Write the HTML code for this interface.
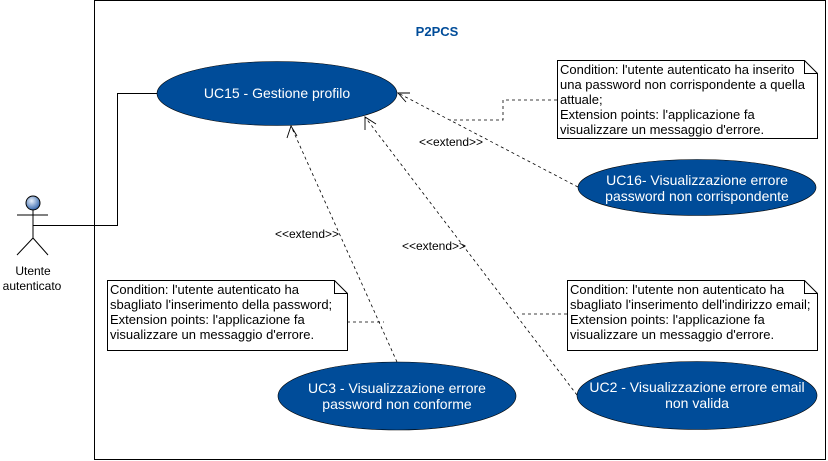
<!DOCTYPE html>
<html><head><style>body{margin:0;background:#fff}svg{display:block}</style></head><body>
<svg width="828" height="461" xmlns="http://www.w3.org/2000/svg" font-family="Liberation Sans, Arial, sans-serif">
<defs><radialGradient id="g" cx="0.4" cy="0.35" r="0.7"><stop offset="0" stop-color="#e8f0fa"/><stop offset="1" stop-color="#2a5ea8"/></radialGradient></defs>
<rect x="94.5" y="0.5" width="731" height="459" fill="#fff" stroke="#000"/>
<text x="437" y="36" font-size="13" font-weight="bold" fill="#004c99" text-anchor="middle">P2PCS</text>
<circle cx="33" cy="203" r="7" fill="url(#g)" stroke="#000"/>
<path d="M17 215H48M33 210V238M33 238L17 255M33 238L48 255" stroke="#000" fill="none"/>
<text x="33" y="275" font-size="12" text-anchor="middle">Utente</text>
<text x="32" y="290" font-size="12" text-anchor="middle">autenticato</text>
<path d="M33 225.5H117.5V93.5H157" stroke="#000" fill="none"/>
<g stroke="#000" fill="none" stroke-dasharray="3,3" stroke-width="0.8">
<path d="M578 187L398 93"/>
<path d="M397 362L291 126"/>
<path d="M577 395L365 117"/>
<path d="M557 100H503V120H450"/>
<path d="M347 322H384"/>
<path d="M567 314H519"/>
</g>
<g stroke="#000" fill="none" stroke-width="0.9">
<path d="M410 93L398 93L406 102"/>
<path d="M287 138L291 126L297 136"/>
<path d="M365 130L365 117L376 124"/>
</g>
<g font-size="12" fill="#000" text-anchor="middle">
<text x="451" y="146">&lt;&lt;extend&gt;&gt;</text>
<text x="307" y="238">&lt;&lt;extend&gt;&gt;</text>
<text x="434" y="250">&lt;&lt;extend&gt;&gt;</text>
</g>
<g fill="#004c99" stroke="#000" stroke-width="0.6">
<ellipse cx="277" cy="93.5" rx="120" ry="32"/>
<ellipse cx="697" cy="187.5" rx="119" ry="28"/>
<ellipse cx="397" cy="396" rx="119" ry="34"/>
<ellipse cx="697" cy="395.5" rx="120" ry="34"/>
</g>
<g fill="#fff" font-size="14" text-anchor="middle">
<text x="277" y="98">UC15 - Gestione profilo</text>
<text x="697" y="185">UC16- Visualizzazione errore</text>
<text x="697" y="201">password non corrispondente</text>
<text x="397" y="393">UC3 - Visualizzazione errore</text>
<text x="397" y="409">password non conforme</text>
<text x="697" y="392">UC2 - Visualizzazione errore email</text>
<text x="697" y="408">non valida</text>
</g>
<g fill="#fff" stroke="#000" stroke-width="1">
<path d="M557.5 60.5H804.5L817.5 73.5V138.5H557.5Z"/><path d="M804.5 60.5V73.5H817.5" fill="none"/>
<path d="M107.5 280.5H334.5L347.5 293.5V350.5H107.5Z"/><path d="M334.5 280.5V293.5H347.5" fill="none"/>
<path d="M567.5 280.5H804.5L817.5 293.5V350.5H567.5Z"/><path d="M804.5 280.5V293.5H817.5" fill="none"/>
</g>
<g font-size="13" fill="#000">
<text x="560" y="74">Condition: l'utente autenticato ha inserito</text>
<text x="560" y="89">una password non corrispondente a quella</text>
<text x="560" y="104">attuale;</text>
<text x="560" y="119">Extension points: l'applicazione fa</text>
<text x="560" y="134">visualizzare un messaggio d'errore.</text>
<text x="110" y="294">Condition: l'utente autenticato ha</text>
<text x="110" y="309">sbagliato l'inserimento della password;</text>
<text x="110" y="324">Extension points: l'applicazione fa</text>
<text x="110" y="339">visualizzare un messaggio d'errore.</text>
<text x="570" y="294">Condition: l'utente non autenticato ha</text>
<text x="570" y="309">sbagliato l'inserimento dell'indirizzo email;</text>
<text x="570" y="324">Extension points: l'applicazione fa</text>
<text x="570" y="339">visualizzare un messaggio d'errore.</text>
</g>
</svg>
</body></html>
